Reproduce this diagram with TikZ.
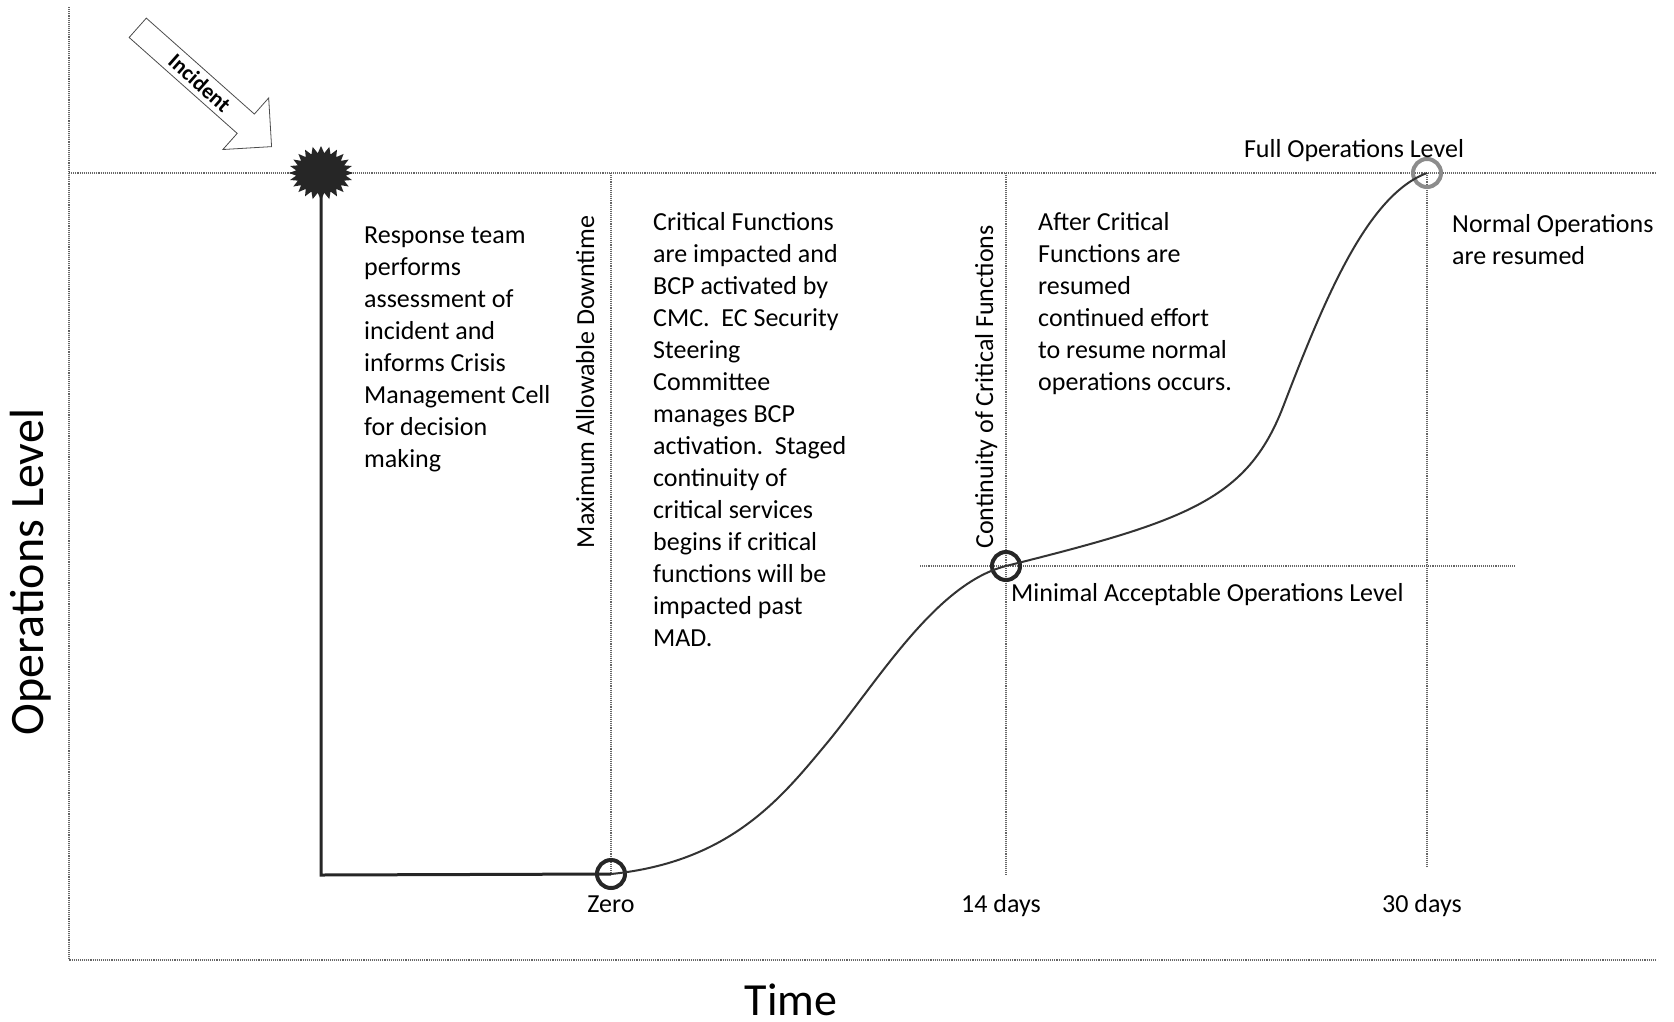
\documentclass[tikz,border=0pt]{standalone}
\usepackage{fontspec}
\setmainfont{Carlito}
\usepackage{tikz}
\usetikzlibrary{positioning,shapes.arrows}
\newcommand{\opsspacer}{\strut}

\begin{document}
\begin{tikzpicture}[
    x=1pt, y=-1pt,
    nosep/.style={inner sep=0},
    guide/.style={draw=black!60, densely dotted, line width=1.1pt},
    body/.style={nosep, font=\fontsize{26}{32}\selectfont, align=left, anchor=north west},
    tick/.style={nosep, font=\fontsize{26}{32}\selectfont, anchor=base},
    phase/.style={nosep, font=\fontsize{26}{32}\selectfont, anchor=base, rotate=90},
    axislabel/.style={nosep, font=\fontsize{46}{55}\selectfont, anchor=base},
    milestone/.style={circle, draw=black!85, line width=4pt, minimum size=28pt, nosep},
    incidentarrow/.style={single arrow, draw=black!70, fill=white, line width=0.8pt,
        minimum height=179pt, minimum width=69pt, single arrow head extend=17pt,
        single arrow tip angle=90, inner sep=2pt, font=\fontsize{22}{26}\selectfont\bfseries},
    level/.style={draw=black!80, line width=2pt},
    outage/.style={draw=black!85, line width=3pt}
]
\useasboundingbox (0,0) rectangle (1674,1021);

% axes and guide lines
\coordinate (ytop) at (69,7);
\coordinate (origin) at (69,960);
\coordinate (xend) at (1656,960);
\coordinate (fullleft) at (69,173);
\coordinate (fullright) at (1656,173);
\coordinate (zeroPt) at (611,874);
\coordinate (minPt) at (1006,566);
\coordinate (fullPt) at (1427,173);
\coordinate (madtop) at (611,173);
\coordinate (fourteentop) at (1006,173);
\coordinate (fourteenbot) at (1006,875);
\coordinate (thirtybot) at (1427,868);
\coordinate (minleft) at (920,566);
\coordinate (minright) at (1516,566);
\coordinate (incidentpoint) at (321,173);
\coordinate (outagecorner) at (321,875);

\path[guide] (ytop) -- (origin) -- (xend);
\path[guide] (fullleft) -- (fullright);
\path[guide] (madtop) -- (zeroPt);
\path[guide] (fourteentop) -- (fourteenbot);
\path[guide] (fullPt) -- (thirtybot);
\path[guide] (minleft) -- (minright);

% incident
\node[incidentarrow, rotate=-41.6, anchor=tip] (incident) at (272,147) {Incident};
\fill[black!85, shift={(incidentpoint)}] (0:32 and 27)
    \foreach \k [evaluate=\k as \rx using {isodd(\k)?25:32},
                 evaluate=\k as \ry using {isodd(\k)?20:27}] in {1,...,47} {
        -- ({\k*7.5}:{\rx} and {\ry})} -- cycle;

% milestones
\node[milestone] (zero) at (zeroPt) {};
\node[milestone] (fourteen) at (minPt) {};
\node[milestone, draw=black!45] (thirty) at (fullPt) {};

\path[outage] (incidentpoint) -- (outagecorner) -- (zero.center);
\path[level] (zero.center) .. controls (731,862) and (782,797) .. (827,743)
    .. controls (878,681) and (936,583.5) .. (fourteen.center)
    .. controls (1186,521) and (1247,500) .. (1283,407)
    .. controls (1326,295) and (1368,195) .. (thirty.center);

% phase texts
\node[body] (response) at (364,221) {\opsspacer Response team\\performs\\assessment of\\incident and\\informs Crisis\\Management Cell\\for decision\\making};
\node[phase] (mad) at (594,382) {Maximum Allowable Downtime};
\node[body] (critical) at (653,208) {\opsspacer Critical Functions\\are impacted and\\BCP activated by\\CMC.\ \ EC Security\\Steering\\Committee\\manages BCP\\activation.\ \ Staged\\continuity of\\critical services\\begins if critical\\functions will be\\impacted past\\MAD.};
\node[phase] (continuity) at (993,387) {Continuity of Critical Functions};
\node[body] (after) at (1038,208) {\opsspacer After Critical\\Functions are\\resumed\\continued effort\\to resume normal\\operations occurs.};
\node[body] (normal) at (1452,210) {\opsspacer Normal Operations\\are resumed};
\node[tick] (fulllabel) at (1354,157) {Full Operations Level};
\node[tick, anchor=base west] (minlabel) at (1011,601) {Minimal Acceptable Operations Level};

% time marks
\node[tick] (zerolabel) at (611,912) {Zero};
\node[tick] (fourteenlabel) at (1001,912) {14 days};
\node[tick] (thirtylabel) at (1422,912) {30 days};

% axis labels
\node[axislabel] (timelabel) at (791,1015) {Time};
\node[axislabel, font=\fontsize{48}{56}\selectfont, rotate=90] (opslabel) at (43,572) {Operations Level};

\end{tikzpicture}
\end{document}
